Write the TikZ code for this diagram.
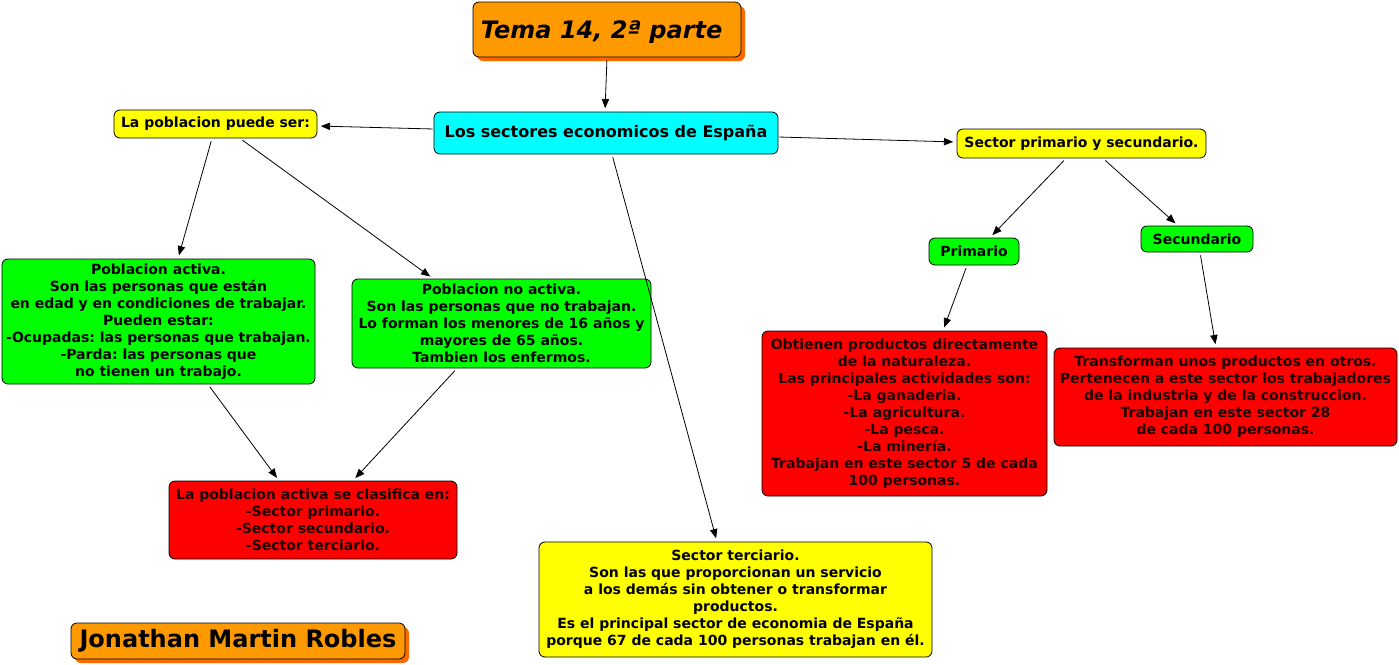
\documentclass[tikz,border=0pt]{standalone}
\usepackage{fontspec}
\setmainfont{DejaVu Sans}
\frenchspacing
\usetikzlibrary{calc,arrows.meta,shadows}
\definecolor{myorange}{HTML}{FF9900}
\definecolor{myshadow}{HTML}{FF6A00}
\definecolor{mycyan}{HTML}{00FFFF}
\definecolor{myyellow}{HTML}{FFFF00}
\definecolor{mygreen}{HTML}{00FF00}
\definecolor{myred}{HTML}{FF0000}
\definecolor{redtext}{HTML}{1A0000}
\begin{document}
\begin{tikzpicture}[x=0.75pt,y=-0.75pt,
  box/.style={draw=black,line width=0.6pt,rounded corners=4.5pt,align=center,inner sep=0pt,
    font=\fontsize{10.5}{12.75}\selectfont\bfseries\frenchspacing},
  big/.style={box,font=\fontsize{18}{20}\selectfont\bfseries\itshape,fill=myorange,
    general shadow={fill=myshadow,shadow xshift=3pt,shadow yshift=-3pt}},
  arr/.style={-{Triangle[length=7pt,width=5.5pt]},line width=0.6pt,shorten <=2.25pt,shorten >=2.5pt},
]
\useasboundingbox (0,0) rectangle (1399,664);
\node[big,minimum width=201pt,minimum height=41.25pt,text depth=0pt] (title) at (607,29.5) {\hspace*{-8pt}Tema 14, 2ª parte};
\node[box,fill=mycyan,minimum width=258pt,minimum height=31.5pt,font=\fontsize{12}{14}\selectfont\bfseries] (cyan) at (606,133) {Los sectores economicos de España};
\node[box,fill=myyellow,minimum width=152.25pt,minimum height=21pt] (lpps) at (215.5,124) {La poblacion puede ser:};
\node[box,fill=myyellow,minimum width=186.75pt,minimum height=21.75pt] (spys) at (1081.5,143.5) {Sector primario y secundario.};
\node[box,fill=mygreen,minimum width=67.5pt,minimum height=20.25pt] (prim) at (974,251.5) {Primario};
\node[box,fill=mygreen,minimum width=84pt,minimum height=19.5pt] (secu) at (1197,239) {Secundario};
\node[box,fill=mygreen,minimum width=234.75pt,minimum height=93.75pt] (pact) at (158.5,321.5) {Poblacion activa.\\Son las personas que están\\en edad y en condiciones de trabajar.\\Pueden estar:\\-Ocupadas: las personas que trabajan.\\-Parda: las personas que\\no tienen un trabajo.};
\node[box,fill=mygreen,minimum width=224.25pt,minimum height=66.75pt] (pnoact) at (501.5,323.5) {Poblacion no activa.\\Son las personas que no trabajan.\\Lo forman los menores de 16 años y\\mayores de 65 años.\\Tambien los enfermos.};
\node[box,fill=myred,text=redtext,minimum width=213.75pt,minimum height=123.75pt] (obt) at (904.5,413.5) {Obtienen productos directamente\\de la naturaleza.\\Las principales actividades son:\\-La ganaderia.\\-La agricultura.\\-La pesca.\\-La minería.\\Trabajan en este sector 5 de cada\\100 personas.};
\node[box,fill=myred,text=redtext,minimum width=257.25pt,minimum height=73.5pt] (transf) at (1225.5,397) {Transforman unos productos en otros.\\Pertenecen a este sector los trabajadores\\de la industria y de la construccion.\\Trabajan en este sector 28\\de cada 100 personas.};
\node[box,fill=myred,text=redtext,minimum width=216pt,minimum height=58.5pt] (clasif) at (313,520) {La poblacion activa se clasifica en:\\-Sector primario.\\-Sector secundario.\\-Sector terciario.};
\node[box,fill=myyellow,minimum width=294.75pt,minimum height=86.25pt] (terc) at (735.5,599.5) {Sector terciario.\\Son las que proporcionan un servicio\\a los demás sin obtener o transformar\\productos.\\Es el principal sector de economia de España\\porque 67 de cada 100 personas trabajan en él.};
\node[big,font=\fontsize{18}{20}\selectfont\bfseries,minimum width=250.5pt,minimum height=27pt] (jon) at (238,641) {Jonathan Martin Robles};

\draw[arr] (title.south) -- ($(cyan.north)+(-1,0)$);
\draw[arr,shorten <=0.75pt] ($(cyan.west)+(0,-4)$) -- ($(lpps.east)+(0,2)$);
\draw[arr,shorten <=0.75pt] ($(cyan.east)+(0,4)$) -- ($(spys.west)+(0,-1.5)$);
\draw[arr] ($(cyan.south)+(6,0)$) -- ($(terc.north)+(-18.5,0)$);
\draw[arr] ($(lpps.south)+(-3.5,0)$) -- ($(pact.north)+(19.5,0)$);
\draw[arr] ($(lpps.south)+(24.5,0)$) -- ($(pnoact.north)+(-68.5,0)$);
\draw[arr] ($(spys.south)+(-15.5,0)$) -- ($(prim.north)+(16,0)$);
\draw[arr] ($(spys.south)+(21.5,0)$) -- ($(secu.north)+(-19,0)$);
\draw[arr] ($(prim.south)+(-7,0)$) -- ($(obt.north)+(38.5,0)$);
\draw[arr] ($(secu.south)+(3,0)$) -- ($(transf.north)+(-9.5,0)$);
\draw[arr] ($(pact.south)+(49.5,0)$) -- ($(clasif.north)+(-34,0)$);
\draw[arr] ($(pnoact.south)+(-44.5,0)$) -- ($(clasif.north)+(40,0)$);
\end{tikzpicture}
\end{document}
